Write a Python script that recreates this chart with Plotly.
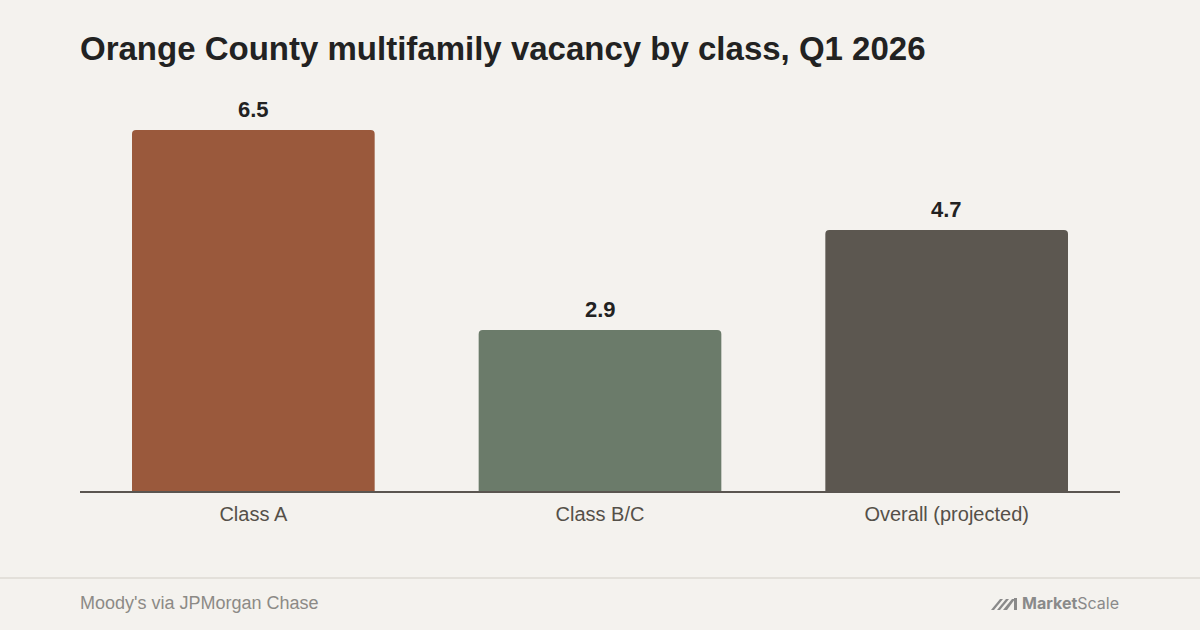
import plotly.graph_objects as go

# data
categories = ["Class A", "Class B/C", "Overall (projected)"]
vacancy = [6.5, 2.9, 4.7]
bar_colors = ["#9A593C", "#6B7B6A", "#5C5750"]

title_text = "Orange County multifamily vacancy by class, Q1 2026"
source_text = "Moody's via JPMorgan Chase"

BG = "#F4F2EE"
FONT = "Liberation Sans, Arial, sans-serif"
W, H = 1200, 630
L, R, T, B = 80, 80, 94, 139
PW, PH = W - L - R, H - T - B


def px(x, y):
    # pixel -> paper coords
    return (x - L) / PW, 1 - (y - T) / PH


def poly(points):
    pts = [px(x, y) for x, y in points]
    return "M " + " L ".join(f"{a:.5f},{b:.5f}" for a, b in pts) + " Z"


fig = go.Figure()

fig.add_trace(go.Bar(
    x=categories,
    y=vacancy,
    marker=dict(color=bar_colors, line=dict(width=0)),
    hoverinfo="skip",
))

# value labels
for c, v in zip(categories, vacancy):
    fig.add_annotation(
        x=c, y=v, text=f"<b>{v}</b>", showarrow=False,
        yanchor="bottom", yshift=6,
        font=dict(size=22, color="#222222", family=FONT),
    )

# footer
fy = px(0, 603)[1]
fig.add_annotation(
    xref="paper", yref="paper", x=px(78, 0)[0], y=fy, xanchor="left", yanchor="middle",
    text=source_text, showarrow=False,
    font=dict(size=18, color="#8C8A86", family=FONT),
)
fig.add_annotation(
    xref="paper", yref="paper", x=px(1121, 0)[0], y=fy, xanchor="right", yanchor="middle",
    text="<b>Market</b>Scale", showarrow=False,
    font=dict(size=16, color="#8A8A8A", family="Inter, Lato, sans-serif"),
)

x0, y0 = px(0, 578)
x1, _ = px(W, 578)
fig.add_shape(type="line", xref="paper", yref="paper", x0=x0, x1=x1, y0=y0, y1=y0,
              line=dict(color="#E3E0DA", width=2))

# logo glyph
glyph = [
    [(991, 610), (994, 610), (1003, 599), (1000, 599)],
    [(997, 610), (1000, 610), (1009, 599), (1006, 599)],
    [(1003, 610), (1007, 610), (1015, 599), (1012, 599)],
    [(1014, 598), (1017, 598), (1017, 610), (1014, 610)],
]
for g in glyph:
    fig.add_shape(type="path", xref="paper", yref="paper", path=poly(g),
                  fillcolor="#8A8A8A", line=dict(width=0))

fig.update_layout(
    width=W, height=H,
    paper_bgcolor=BG, plot_bgcolor=BG,
    margin=dict(l=L, r=R, t=T, b=B),
    bargap=0.3,
    barcornerradius=4,
    showlegend=False,
    title=dict(
        text=f"<b>{title_text}</b>",
        x=L / W, xanchor="left", y=1 - 48 / H, yanchor="middle",
        font=dict(size=33, color="#222222", family=FONT),
    ),
    xaxis=dict(
        showline=True, linecolor="#5A5550", linewidth=2,
        ticks="", showgrid=False, zeroline=False,
        tickfont=dict(size=20, color="#555049", family=FONT),
        ticklabelstandoff=4,
        fixedrange=True,
    ),
    yaxis=dict(
        range=[0, 7.15], visible=False, showgrid=False, zeroline=False,
        fixedrange=True,
    ),
)

fig.write_html("out.html", config={"displayModeBar": False},
               post_script="document.body.style.margin='0';")
